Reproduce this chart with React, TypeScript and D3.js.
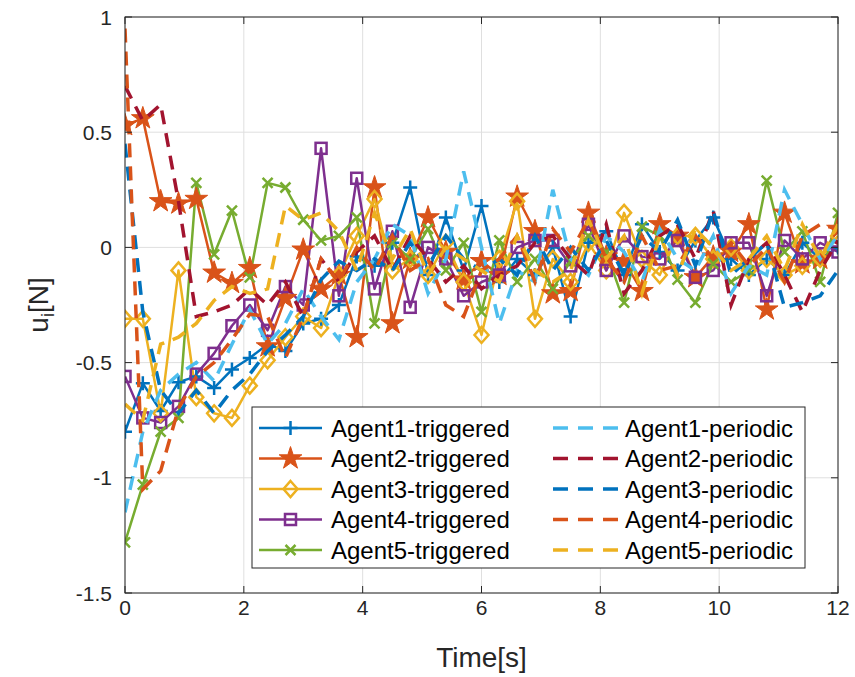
import React from 'react';
import * as d3 from 'd3';

const time = [0, 0.3, 0.6, 0.9, 1.2, 1.5, 1.8, 2.1, 2.4, 2.7, 3, 3.3, 3.6, 3.9, 4.2, 4.5, 4.8, 5.1, 5.4, 5.7,
  6, 6.3, 6.6, 6.9, 7.2, 7.5, 7.8, 8.1, 8.4, 8.7, 9, 9.3, 9.6, 9.9, 10.2, 10.5, 10.8, 11.1, 11.4, 11.7, 12];

const agent1Triggered = [-0.8, -0.59, -0.71, -0.585, -0.56, -0.61, -0.53, -0.48, -0.42, -0.45, -0.33, -0.31, -0.25, -0.04, -0.08, 0.02, 0.26, -0.12, 0.13, -0.1,
  0.18, -0.15, -0.05, -0.12, 0, -0.3, 0.02, 0.07, -0.12, 0.1, -0.02, -0.1, 0.03, 0.13, -0.05, -0.12, -0.05, -0.12, 0.02, -0.05, 0];
const agent2Triggered = [0.53, 0.56, 0.2, 0.19, 0.21, -0.11, -0.155, -0.09, -0.43, -0.22, -0.01, -0.18, -0.12, -0.39, 0.26, -0.33, -0.05, 0.13, -0.02, -0.14,
  -0.06, -0.12, 0.22, 0.07, -0.2, -0.19, 0.15, -0.04, -0.06, -0.19, 0.1, 0.05, -0.13, -0.04, -0.02, 0.1, -0.27, 0.15, -0.07, -0.05, 0.08];
const agent3Triggered = [-0.31, -0.31, -0.72, -0.1, -0.65, -0.72, -0.74, -0.6, -0.49, -0.39, -0.3, -0.35, -0.12, 0.05, 0.21, -0.1, -0.05, -0.12, 0.02, -0.15,
  -0.38, -0.05, 0.2, -0.31, -0.05, -0.15, 0.02, -0.1, 0.15, -0.05, -0.12, 0.05, 0.05, -0.05, 0, -0.1, -0.05, -0.12, -0.08, -0.05, 0.05];
const agent4Triggered = [-0.56, -0.74, -0.76, -0.69, -0.55, -0.46, -0.34, -0.25, -0.36, -0.17, -0.25, 0.43, -0.21, 0.3, -0.18, 0.07, -0.26, 0, -0.05, -0.21,
  -0.15, -0.12, 0, 0.03, 0.03, -0.08, 0.1, -0.1, 0.05, -0.04, -0.05, 0.03, -0.13, -0.1, 0.02, 0.02, -0.21, 0.03, -0.05, 0.02, -0.02];
const agent5Triggered = [-1.28, -1.03, -0.8, -0.74, 0.28, -0.03, 0.16, -0.13, 0.28, 0.26, 0.12, 0.03, 0.05, 0.13, -0.33, 0.02, -0.05, 0.08, -0.1, 0.02,
  -0.28, 0.03, -0.15, -0.05, -0.18, -0.06, 0.05, -0.02, -0.24, 0.09, 0.05, -0.14, -0.24, -0.07, -0.15, -0.1, 0.29, -0.02, 0.07, -0.15, 0.15];

const agent1Periodic = [-1.15, -0.8, -0.62, -0.55, -0.5, -0.58, -0.42, -0.27, -0.42, -0.33, -0.18, -0.3, -0.4, -0.15, -0.05, 0.1, 0.05, -0.2, -0.05, 0.33,
  0, -0.33, -0.1, -0.15, 0.25, -0.05, -0.12, 0.05, -0.02, -0.15, 0.08, -0.05, -0.1, 0.05, -0.2, -0.08, -0.12, 0.25, 0.1, -0.05, 0.05];
const agent2Periodic = [0.7, 0.55, 0.62, 0.2, -0.3, -0.28, -0.25, -0.18, -0.25, -0.15, -0.3, -0.05, -0.15, -0.02, 0.05, -0.1, 0.05, -0.05, -0.15, -0.08,
  -0.18, -0.12, -0.08, 0.02, 0.05, -0.05, -0.12, 0.1, -0.2, -0.1, 0.05, 0.1, -0.05, 0.16, -0.25, -0.05, 0.02, -0.12, -0.28, -0.1, 0.03];
const agent3Periodic = [0.45, -0.28, -0.62, -0.72, -0.62, -0.72, -0.62, -0.55, -0.45, -0.38, -0.3, -0.14, -0.06, -0.1, -0.05, -0.1, 0.02, -0.08, 0.05, -0.05,
  -0.1, -0.05, -0.12, 0.05, -0.1, 0, -0.1, 0.03, -0.12, 0.05, -0.02, 0.12, -0.08, 0.16, -0.12, -0.05, 0.02, -0.26, -0.24, -0.21, -0.1];
const agent4Periodic = [0.95, -1.05, -0.97, -0.7, -0.56, -0.5, -0.4, -0.29, -0.3, -0.48, -0.3, -0.05, -0.15, 0, -0.1, 0.05, -0.1, -0.05, -0.25, -0.3,
  -0.1, -0.05, 0.05, -0.15, 0.08, -0.02, 0.12, -0.05, -0.15, 0.05, -0.1, -0.08, 0.05, -0.05, 0.02, -0.08, 0, -0.15, 0.05, 0.1, 0.08];
const agent5Periodic = [-0.68, -0.75, -0.42, -0.39, -0.33, -0.23, -0.17, -0.2, -0.18, 0.18, 0.12, 0.15, 0.07, -0.1, 0.15, -0.05, 0.08, -0.12, 0, -0.05,
  -0.1, -0.15, 0.05, -0.1, -0.15, -0.1, 0.12, -0.05, 0.05, -0.2, 0.05, -0.12, 0.08, 0, -0.1, -0.05, 0.05, -0.1, 0.1, -0.05, 0.1];

const xTicks = [0, 2, 4, 6, 8, 10, 12];
const yTicks = [-1.5, -1, -0.5, 0, 0.5, 1];
const yTickLabels = ['-1.5', '-1', '-0.5', '0', '0.5', '1'];

const triggeredNames = ['Agent1-triggered', 'Agent2-triggered', 'Agent3-triggered', 'Agent4-triggered', 'Agent5-triggered'];
const periodicNames = ['Agent1-periodic', 'Agent2-periodic', 'Agent3-periodic', 'Agent4-periodic', 'Agent5-periodic'];
const triggeredColors = ['#0072BD', '#D95319', '#EDB120', '#7E2F8E', '#77AC30'];
const periodicColors = ['#4DBEEE', '#A2142F', '#0072BD', '#D95319', '#EDB120'];
const markerKinds = ['plus', 'star', 'diamond', 'square', 'cross'];

const triggered = [agent1Triggered, agent2Triggered, agent3Triggered, agent4Triggered, agent5Triggered];
const periodic = [agent1Periodic, agent2Periodic, agent3Periodic, agent4Periodic, agent5Periodic];

const W = 855;
const H = 677;
const margin = { top: 17, right: 17, bottom: 84, left: 125 };
const FONT = 'Liberation Sans, Arial, Helvetica, sans-serif';
const AXIS = '#262626';

const Marker = ({ kind, color, x, y }: { kind: string; color: string; x: number; y: number }) => {
  const sw = 2.5;
  if (kind === 'plus') {
    return <path d={`M${x - 7},${y}H${x + 7}M${x},${y - 7}V${y + 7}`} stroke={color} strokeWidth={sw} fill="none" />;
  }
  if (kind === 'cross') {
    return <path d={`M${x - 5},${y - 5}L${x + 5},${y + 5}M${x - 5},${y + 5}L${x + 5},${y - 5}`} stroke={color} strokeWidth={sw} fill="none" />;
  }
  if (kind === 'diamond') {
    return <path d={`M${x},${y - 8}L${x + 7},${y}L${x},${y + 8}L${x - 7},${y}Z`} stroke={color} strokeWidth={sw} fill="none" />;
  }
  if (kind === 'square') {
    return <rect x={x - 5.5} y={y - 5.5} width={11} height={11} stroke={color} strokeWidth={sw} fill="none" />;
  }
  const star = d3.symbol().type(d3.symbolStar).size(160)() as string;
  return <path d={star} transform={`translate(${x},${y})`} fill={color} stroke={color} strokeWidth={1} />;
};

const App = () => {
  const iw = W - margin.left - margin.right;
  const ih = H - margin.top - margin.bottom;
  const x = d3.scaleLinear().domain([0, 12]).range([margin.left, margin.left + iw]);
  const y = d3.scaleLinear().domain([-1.5, 1]).range([margin.top + ih, margin.top]);

  const line = d3.line<number>()
    .x((_, i) => x(time[i]))
    .y(d => y(d));

  const x0 = margin.left;
  const x1 = margin.left + iw;
  const y0 = margin.top + ih;
  const y1 = margin.top;

  // legend geometry
  const lg = { x: 252, y: 407, w: 553, h: 161 };
  const rowY = (i: number) => 428 + i * 30.5;

  return (
    <svg width={W} height={H} style={{ display: 'block', position: 'absolute', left: 0, top: 0, background: '#fff' }}>
      <defs>
        <clipPath id="plotClip">
          <rect x={x0} y={y1} width={iw} height={ih} />
        </clipPath>
      </defs>

      {/* grid */}
      {xTicks.map(t => (
        <line key={'gx' + t} x1={x(t)} x2={x(t)} y1={y1} y2={y0} stroke="#dfdfdf" strokeWidth={1} />
      ))}
      {yTicks.map(t => (
        <line key={'gy' + t} x1={x0} x2={x1} y1={y(t)} y2={y(t)} stroke="#dfdfdf" strokeWidth={1} />
      ))}

      <g clipPath="url(#plotClip)">
        {/* triggered lines */}
        {triggered.map((s, k) => (
          <path key={'t' + k} d={line(s) as string} fill="none" stroke={triggeredColors[k]} strokeWidth={2.5} strokeLinejoin="round" />
        ))}
        {triggered.map((s, k) => (
          <g key={'m' + k}>
            {s.map((v, i) => (
              <Marker key={i} kind={markerKinds[k]} color={triggeredColors[k]} x={x(time[i])} y={y(v)} />
            ))}
          </g>
        ))}
        {/* periodic lines */}
        {periodic.map((s, k) => (
          <path key={'p' + k} d={line(s) as string} fill="none" stroke={periodicColors[k]} strokeWidth={3.5} strokeDasharray="14,9" />
        ))}
      </g>

      {/* axes box with inward ticks */}
      <rect x={x0} y={y1} width={iw} height={ih} fill="none" stroke={AXIS} strokeWidth={1} />
      {xTicks.map(t => (
        <g key={'tx' + t}>
          <line x1={x(t)} x2={x(t)} y1={y0} y2={y0 - 7} stroke={AXIS} />
          <line x1={x(t)} x2={x(t)} y1={y1} y2={y1 + 7} stroke={AXIS} />
          <text x={x(t)} y={y0 + 22} textAnchor="middle" fontFamily={FONT} fontSize={21} fill={AXIS}>{t}</text>
        </g>
      ))}
      {yTicks.map((t, i) => (
        <g key={'ty' + t}>
          <line x1={x0} x2={x0 + 7} y1={y(t)} y2={y(t)} stroke={AXIS} />
          <line x1={x1} x2={x1 - 7} y1={y(t)} y2={y(t)} stroke={AXIS} />
          <text x={x0 - 13} y={y(t) + 7.5} textAnchor="end" fontFamily={FONT} fontSize={21} fill={AXIS}>{yTickLabels[i]}</text>
        </g>
      ))}

      <text x={(x0 + x1) / 2} y={667} textAnchor="middle" fontFamily={FONT} fontSize={28} fill={AXIS}>Time[s]</text>
      <text transform={`translate(48,${(y0 + y1) / 2}) rotate(-90)`} textAnchor="middle" fontFamily={FONT} fontSize={28} fill={AXIS}>
        u<tspan fontSize={18} dy={6}>i</tspan><tspan dy={-6}>[N]</tspan>
      </text>

      {/* legend */}
      <rect x={lg.x} y={lg.y} width={lg.w} height={lg.h} fill="#fff" stroke={AXIS} strokeWidth={1} />
      {triggeredNames.map((n, k) => (
        <g key={'lt' + k}>
          <line x1={259} x2={322} y1={rowY(k)} y2={rowY(k)} stroke={triggeredColors[k]} strokeWidth={2.5} />
          <Marker kind={markerKinds[k]} color={triggeredColors[k]} x={290.5} y={rowY(k)} />
          <text x={331} y={rowY(k) + 8.5} fontFamily={FONT} fontSize={24} fill="#000">{n}</text>
        </g>
      ))}
      {periodicNames.map((n, k) => (
        <g key={'lp' + k}>
          <line x1={553} x2={618} y1={rowY(k)} y2={rowY(k)} stroke={periodicColors[k]} strokeWidth={3.5} strokeDasharray="15,10" />
          <text x={625} y={rowY(k) + 8.5} fontFamily={FONT} fontSize={24} fill="#000">{n}</text>
        </g>
      ))}
    </svg>
  );
};

export default App;
